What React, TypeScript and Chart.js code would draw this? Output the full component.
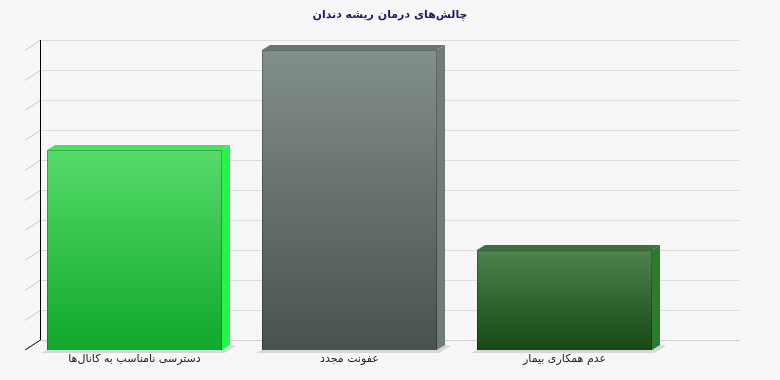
import React, { useEffect, useRef } from "react";
import { Chart, registerables } from "chart.js";

Chart.register(...registerables);

const titleText = "چالش‌های درمان ریشه دندان";
const categories = ["دسترسی نامناسب به کانال‌ها", "عفونت مجدد", "عدم همکاری بیمار"];
const values = [20, 30, 10];
const yMax = 30;
const yStep = 3;

const frontTop = ["#55db6a", "#838f89", "#4d834d"];
const frontBottom = ["#10a82a", "#48524f", "#164914"];
const sideColors = ["#24f548", "#6f7c77", "#2c7a2c"];
const topColors = ["#3cea58", "#6a7570", "#3f6f3f"];

const DX = 8;
const DY = -5;
const WDX = 15;
const WDY = -10;

const threeD = {
  id: "threeD",
  beforeDatasetsDraw(chart: any) {
    const { ctx, chartArea, scales } = chart;
    const y = scales.y;
    const left = chartArea.left - 2;
    const right = chart.width - 40;
    ctx.save();
    ctx.fillStyle = "#1b1b6b";
    ctx.font = "bold 11px 'DejaVu Sans'";
    ctx.textAlign = "center";
    ctx.textBaseline = "middle";
    ctx.fillText(titleText, chart.width / 2, 15);
    for (let v = 0; v <= yMax; v += yStep) {
      const py = Math.round(y.getPixelForValue(v)) + 0.5;
      ctx.strokeStyle = "#dcdcdc";
      ctx.lineWidth = 1;
      ctx.beginPath();
      ctx.moveTo(left + WDX, py + WDY);
      ctx.lineTo(right, py + WDY);
      ctx.stroke();
      if (v > 0) {
        ctx.strokeStyle = "#c8c8c8";
        ctx.beginPath();
        ctx.moveTo(left, py);
        ctx.lineTo(left + WDX, py + WDY);
        ctx.stroke();
      }
    }
    const base = y.getPixelForValue(0);
    ctx.strokeStyle = "#cfcfcf";
    ctx.beginPath();
    ctx.moveTo(left + WDX, Math.round(base + WDY) + 0.5);
    ctx.lineTo(right, Math.round(base + WDY) + 0.5);
    ctx.stroke();
    ctx.strokeStyle = "#000";
    ctx.beginPath();
    ctx.moveTo(left + WDX + 0.5, y.getPixelForValue(yMax) + WDY);
    ctx.lineTo(left + WDX + 0.5, base + WDY);
    ctx.lineTo(left, base);
    ctx.stroke();
    const meta = chart.getDatasetMeta(0);
    ctx.font = "11px 'DejaVu Sans'";
    meta.data.forEach((bar: any, i: number) => {
      const l = bar.x - bar.width / 2;
      const r = bar.x + bar.width / 2;
      ctx.fillStyle = "rgba(0,0,0,0.13)";
      ctx.beginPath();
      ctx.moveTo(l - 6, base + 3);
      ctx.lineTo(r + 2, base + 3);
      ctx.lineTo(r + DX + 6, base + DY + 1);
      ctx.lineTo(r + DX, base + DY);
      ctx.lineTo(r, base);
      ctx.lineTo(l, base);
      ctx.closePath();
      ctx.fill();
      ctx.fillStyle = "#222";
      ctx.fillText(categories[i], bar.x, base + 9);
    });
    ctx.restore();
  },
  afterDatasetsDraw(chart: any) {
    const { ctx } = chart;
    const meta = chart.getDatasetMeta(0);
    ctx.save();
    meta.data.forEach((bar: any, i: number) => {
      const l = bar.x - bar.width / 2;
      const r = bar.x + bar.width / 2;
      const t = bar.y;
      const b = bar.base;
      ctx.fillStyle = sideColors[i];
      ctx.beginPath();
      ctx.moveTo(r, t);
      ctx.lineTo(r + DX, t + DY);
      ctx.lineTo(r + DX, b + DY);
      ctx.lineTo(r, b);
      ctx.closePath();
      ctx.fill();
      ctx.fillStyle = topColors[i];
      ctx.beginPath();
      ctx.moveTo(l, t);
      ctx.lineTo(l + DX, t + DY);
      ctx.lineTo(r + DX, t + DY);
      ctx.lineTo(r, t);
      ctx.closePath();
      ctx.fill();
      ctx.strokeStyle = "rgba(0,0,0,0.25)";
      ctx.lineWidth = 1;
      ctx.beginPath();
      ctx.moveTo(l + 0.5, b);
      ctx.lineTo(l + 0.5, t + 0.5);
      ctx.lineTo(r - 0.5, t + 0.5);
      ctx.lineTo(r - 0.5, b);
      ctx.stroke();
    });
    ctx.restore();
  },
};

export default function App() {
  const ref = useRef<HTMLCanvasElement | null>(null);
  useEffect(() => {
    if (!ref.current) return;
    const chart = new Chart(ref.current, {
      type: "bar",
      data: {
        labels: categories,
        datasets: [
          {
            data: values,
            backgroundColor: (c: any) => {
              const ch = c.chart;
              const area = ch.chartArea;
              if (!area || !ch.scales.y) return frontBottom[c.dataIndex];
              const top = ch.scales.y.getPixelForValue(values[c.dataIndex]);
              const g = ch.ctx.createLinearGradient(0, top, 0, area.bottom);
              g.addColorStop(0, frontTop[c.dataIndex]);
              g.addColorStop(1, frontBottom[c.dataIndex]);
              return g;
            },
            borderWidth: 0,
            barPercentage: 0.814,
            categoryPercentage: 1,
          },
        ],
      },
      options: {
        responsive: false,
        animation: false,
        layout: { padding: { left: 27, right: 108, top: 50, bottom: 30 } },
        plugins: {
          legend: { display: false },
          tooltip: { enabled: false },
          title: { display: false },
        },
        scales: {
          x: { display: false },
          y: {
            display: false,
            min: 0,
            max: yMax,
            ticks: { stepSize: yStep },
          },
        },
      },
      plugins: [threeD],
    });
    return () => chart.destroy();
  }, []);
  return (
    <div style={{ position: "fixed", left: 0, top: 0, width: 780, height: 380, background: "#f7f7f7" }}>
      <canvas ref={ref} width={780} height={380} style={{ display: "block" }} />
    </div>
  );
}
